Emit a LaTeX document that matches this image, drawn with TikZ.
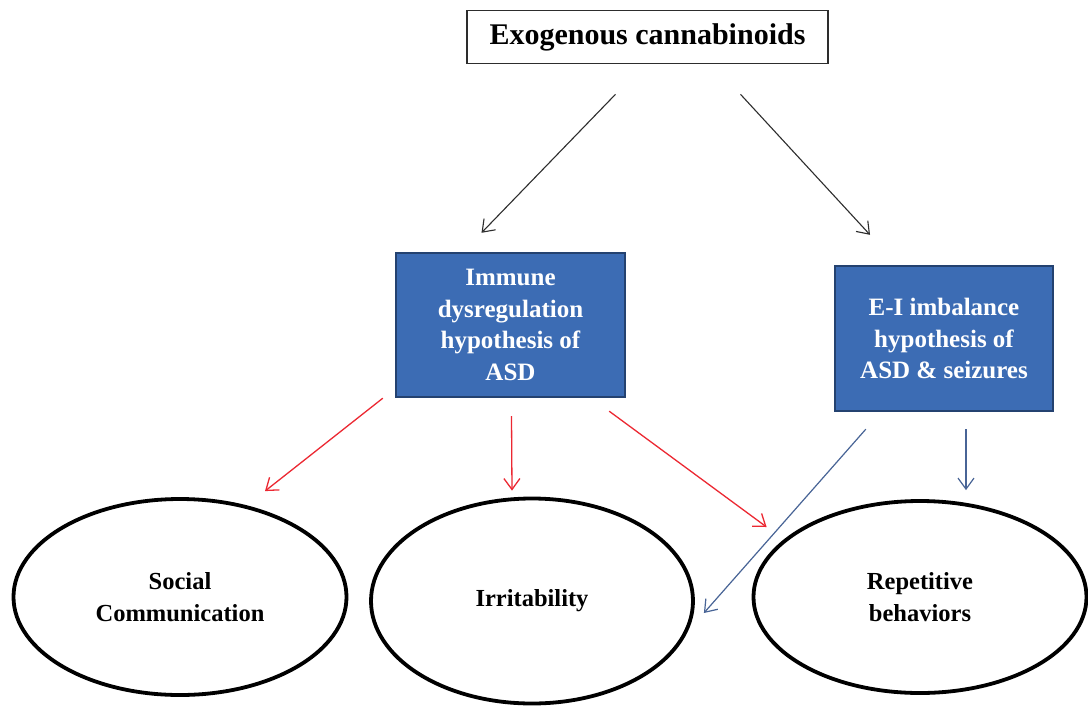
\documentclass[tikz,border=0pt]{standalone}
\usepackage{fontspec}
\setmainfont{Liberation Serif}
\usetikzlibrary{arrows.meta,calc,positioning,shapes.geometric}
\definecolor{hypfill}{RGB}{60,108,180}
\definecolor{hypedge}{RGB}{36,66,112}
\definecolor{linkred}{RGB}{236,40,50}
\definecolor{linkblue}{RGB}{72,100,150}
\definecolor{linkgray}{RGB}{45,45,45}
\tikzset{
    top box/.style={
        draw=linkgray,
        line width=1.6pt,
        fill=white,
        minimum width=361pt,
        minimum height=53pt,
        inner sep=0pt,
        font=\bfseries\fontsize{30}{34}\selectfont
    },
    hyp box/.style={
        draw=hypedge,
        line width=2.4pt,
        fill=hypfill,
        text=white,
        inner sep=0pt,
        align=center,
        font=\bfseries\fontsize{25}{31.5}\selectfont
    },
    trait ellipse/.style={
        ellipse,
        draw=black,
        line width=3.8pt,
        fill=white,
        inner sep=0pt,
        align=center,
        font=\bfseries\fontsize{24.5}{32.5}\selectfont
    },
    exo arrow/.style={-{Straight Barb[length=11pt,width=16pt]}, line width=1.1pt, color=linkgray},
    immune arrow/.style={-{Straight Barb[length=11pt,width=16pt]}, line width=1.3pt, color=linkred},
    ei arrow/.style={-{Straight Barb[length=11pt,width=16pt]}, line width=1.2pt, color=linkblue}
}

\begin{document}
\begin{tikzpicture}[x=1pt,y=-1pt]
    \path[use as bounding box, fill=white] (0,0) rectangle (1088,705);

    \node[top box] (exo) at (647.5,37) {Exogenous cannabinoids};

    \node[hyp box, minimum width=229pt, minimum height=144pt] (immune) at (510.5,325)
        {Immune\\dysregulation\\hypothesis of\\ASD};
    \node[hyp box, minimum width=218pt, minimum height=145pt] (ei) at (944,338.5)
        {E-I imbalance\\hypothesis of\\ASD \& seizures};

    \node[trait ellipse, minimum width=333pt, minimum height=196pt] (social) at (180,597)
        {Social\\Communication};
    \node[trait ellipse, minimum width=322pt, minimum height=205pt] (irrit) at (532,601)
        {Irritability};
    \node[trait ellipse, minimum width=333pt, minimum height=192pt] (rep) at (920,597)
        {Repetitive\\behaviors};

    % exogenous cannabinoids to both hypotheses
    \draw[exo arrow] ($(exo.south)+(-32,30)$) -- ($(immune.north)+(-29,-19)$);
    \draw[exo arrow] ($(exo.south)+(93,30)$) -- ($(ei.north)+(-74,-30)$);

    % immune dysregulation
    \draw[immune arrow] ($(immune.south west)+(-12,0)$) -- ($(social.north)+(85,-6)$);
    \draw[immune arrow] ($(immune.south)+(1,18)$) -- ($(irrit.north)+(-20,-6)$);
    \draw[immune arrow] ($(immune.south east)+(-17,13)$) -- ($(rep.west)+(15,-70)$);

    % E-I imbalance
    \draw[ei arrow] ($(ei.south west)+(32,17)$) -- ($(irrit.east)+(9,12)$);
    \draw[ei arrow] ($(ei.south)+(22,17)$) -- ($(rep.north)+(46,-9)$);
\end{tikzpicture}
\end{document}
